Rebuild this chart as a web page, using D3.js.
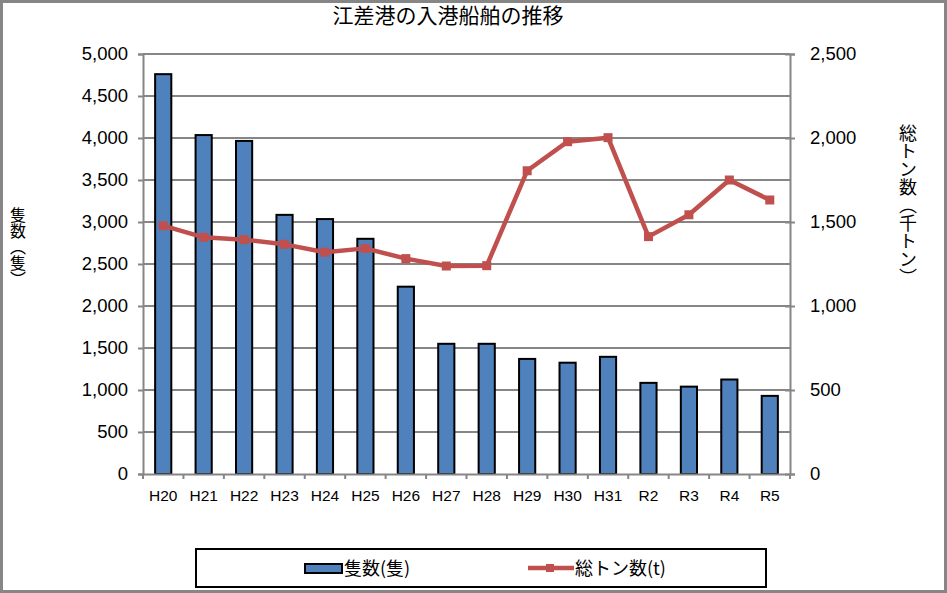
<!DOCTYPE html>
<html><head><meta charset="utf-8">
<script src="https://cdn.jsdelivr.net/npm/d3@7"></script>
<style>
body{margin:0;background:#fff;}
svg{display:block;}
</style></head><body>
<svg id="c" width="947" height="593"></svg>
<script>
const categories = ["H20","H21","H22","H23","H24","H25","H26","H27","H28","H29","H30","H31","R2","R3","R4","R5"];
const vessels = [4760,4035,3965,3085,3035,2800,2230,1550,1550,1370,1325,1395,1085,1040,1125,930];
const tonnage = [1478,1409,1395,1367,1320,1343,1282,1238,1240,1805,1978,2002,1413,1543,1750,1631];
const leftTicks = [0,500,1000,1500,2000,2500,3000,3500,4000,4500,5000];
const rightTicks = [0,500,1000,1500,2000,2500];
const title = "江差港の入港船舶の推移";
const leftTitle = "隻数（隻）";
const rightTitle = "総トン数（千トン）";
const legendLabels = ["隻数(隻)","総トン数(t)"];

const svg = d3.select("#c");
const W = 947, H = 593;
const m = {l:143, r:790, t:54, b:474};
const jp = "'Noto Sans CJK JP', sans-serif";
const num = "'Liberation Sans', Arial, sans-serif";
const grey = "#868686";

svg.append("rect").attr("x",1.5).attr("y",1.5).attr("width",W-3).attr("height",H-3)
  .attr("fill","#fff").attr("stroke",grey).attr("stroke-width",3);

const x = d3.scaleBand().domain(categories).range([m.l,m.r]).paddingInner(0.6).paddingOuter(0.3);
const xb = d3.scaleBand().domain(categories).range([m.l,m.r]);
const yL = d3.scaleLinear().domain([0,5000]).range([m.b,m.t]);
const yR = d3.scaleLinear().domain([0,2500]).range([m.b,m.t]);

// gridlines
svg.append("g").selectAll("line").data(leftTicks.filter(d=>d>0)).join("line")
  .attr("x1",m.l).attr("x2",m.r).attr("y1",d=>yL(d)).attr("y2",d=>yL(d))
  .attr("stroke",grey).attr("stroke-width",2);

// left axis
const gL = svg.append("g").attr("transform",`translate(${m.l},0)`)
  .call(d3.axisLeft(yL).tickValues(leftTicks).tickFormat(d3.format(",")).tickSize(5).tickPadding(10));
gL.select(".domain").attr("stroke",grey).attr("stroke-width",2);
gL.selectAll(".tick line").attr("stroke",grey).attr("stroke-width",2);
gL.selectAll("text").attr("font-family",num).attr("font-size",18.5).attr("fill","#000");

// right axis
const gR = svg.append("g").attr("transform",`translate(${m.r},0)`)
  .call(d3.axisRight(yR).tickValues(rightTicks).tickFormat(d3.format(",")).tickSize(5).tickPadding(15));
gR.select(".domain").attr("stroke",grey).attr("stroke-width",2);
gR.selectAll(".tick line").attr("stroke",grey).attr("stroke-width",2).attr("x1",-5);
gR.selectAll("text").attr("font-family",num).attr("font-size",18.5).attr("fill","#000");

// bars
svg.append("g").selectAll("rect").data(vessels).join("rect")
  .attr("x",(d,i)=>x(categories[i])).attr("width",x.bandwidth())
  .attr("y",d=>yL(d)).attr("height",d=>yL(0)-yL(d))
  .attr("fill","#4F81BD").attr("stroke","#000").attr("stroke-width",2);

// bottom axis
const gB = svg.append("g").attr("transform",`translate(0,${m.b})`)
  .call(d3.axisBottom(xb).tickSize(0).tickPadding(16));
gB.select(".domain").attr("stroke",grey).attr("stroke-width",2);
gB.selectAll("text").attr("font-family",num).attr("font-size",15.5).attr("fill","#000");
gB.append("g").selectAll("line").data(categories.concat(["end"])).join("line")
  .attr("x1",(d,i)=>m.l+i*xb.step()).attr("x2",(d,i)=>m.l+i*xb.step())
  .attr("y1",0).attr("y2",5).attr("stroke",grey).attr("stroke-width",2);

// line
const cx = (i)=>x(categories[i])+x.bandwidth()/2;
const line = d3.line().x((d,i)=>cx(i)).y(d=>yR(d));
svg.append("path").datum(tonnage).attr("d",line).attr("fill","none")
  .attr("stroke","#C0504D").attr("stroke-width",4.5).attr("stroke-linejoin","round");
svg.append("g").selectAll("rect").data(tonnage).join("rect")
  .attr("x",(d,i)=>cx(i)-4.5).attr("y",d=>yR(d)-4.5).attr("width",9).attr("height",9)
  .attr("fill","#C0504D");

// title
svg.append("text").attr("x",448).attr("y",23).attr("text-anchor","middle")
  .attr("font-family",jp).attr("font-size",21).attr("fill","#000").text(title);

// axis titles (vertical)
svg.append("text").attr("x",18).attr("y",207).attr("writing-mode","vertical-rl")
  .attr("font-family",jp).attr("font-size",16).attr("fill","#000").text(leftTitle);
svg.append("text").attr("x",908).attr("y",124).attr("writing-mode","vertical-rl")
  .attr("font-family",jp).attr("font-size",18).attr("fill","#000").text(rightTitle);

// legend
svg.append("rect").attr("x",196).attr("y",549).attr("width",570).attr("height",38)
  .attr("fill","#fff").attr("stroke","#000").attr("stroke-width",2);
svg.append("rect").attr("x",305).attr("y",564).attr("width",37).attr("height",9)
  .attr("fill","#4F81BD").attr("stroke","#000").attr("stroke-width",2);
svg.append("text").attr("x",344).attr("y",575).attr("font-family",jp).attr("font-size",18)
  .attr("fill","#000").text(legendLabels[0]);
svg.append("line").attr("x1",528).attr("x2",574).attr("y1",568).attr("y2",568)
  .attr("stroke","#C0504D").attr("stroke-width",4.5);
svg.append("rect").attr("x",546).attr("y",564).attr("width",8).attr("height",8).attr("fill","#C0504D");
svg.append("text").attr("x",575).attr("y",575).attr("font-family",jp).attr("font-size",18)
  .attr("fill","#000").text(legendLabels[1]);
</script>
</body></html>
